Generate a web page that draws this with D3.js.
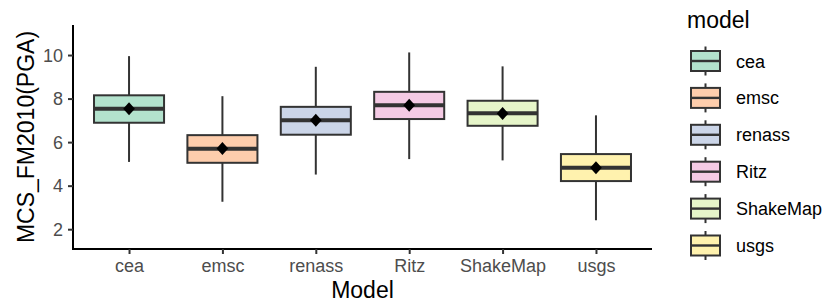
<!DOCTYPE html>
<html>
<head>
<meta charset="utf-8">
<script src="https://cdn.jsdelivr.net/npm/d3@7"></script>
<style>
  body { margin: 0; background: #fff; }
  svg { display: block; font-family: "Liberation Sans", Arial, sans-serif; }
</style>
</head>
<body>
<svg id="chart" width="828" height="302"></svg>
<script>
const models = ["cea", "emsc", "renass", "Ritz", "ShakeMap", "usgs"];
const whiskerLow = [5.09, 3.26, 4.51, 5.22, 5.16, 2.41];
const q1 = [6.89, 5.05, 6.34, 7.06, 6.75, 4.21];
const medians = [7.53, 5.69, 7.0, 7.69, 7.33, 4.82];
const q3 = [8.15, 6.32, 7.62, 8.31, 7.9, 5.45];
const whiskerHigh = [9.95, 8.11, 9.46, 10.12, 9.48, 7.23];
const means = [7.53, 5.71, 7.0, 7.69, 7.32, 4.82];
const yTicks = [2, 4, 6, 8, 10];
const colors = ["#B3E2CD", "#FDCDAC", "#CBD5E8", "#F4CAE4", "#E6F5C9", "#FFF2AE"];

const rows = models.map((m, i) => ({
    model: m, lo: whiskerLow[i], q1: q1[i], med: medians[i],
    q3: q3[i], hi: whiskerHigh[i], mean: means[i]
}));

const svg = d3.select("#chart");
const plotLeft = 73, plotRight = 652, plotTop = 25, plotBottom = 249;
const dark = "#333333";

// ggplot discrete expansion: 0.6 units each side
const step = (plotRight - plotLeft) / (models.length - 1 + 1.2);
const x = d3.scalePoint()
    .domain(models)
    .range([plotLeft + 0.6 * step, plotRight - 0.6 * step]);
const boxW = step * 0.75;

const y = d3.scaleLinear().domain([1.09, 11.38]).range([plotBottom, plotTop]);
const color = d3.scaleOrdinal().domain(models).range(colors);

// axes
const yAxis = svg.append("g").attr("transform", `translate(${plotLeft},0)`)
    .call(d3.axisLeft(y).tickValues(yTicks).tickSize(5).tickPadding(4));
yAxis.select(".domain").attr("d", `M0,${plotTop}V${plotBottom + 1}`);

const xAxis = svg.append("g").attr("transform", `translate(0,${plotBottom})`)
    .call(d3.axisBottom(x).tickSize(5).tickPadding(5));
xAxis.select(".domain").attr("d", `M${plotLeft - 1},0H${plotRight}`);

[yAxis, xAxis].forEach(a => {
    a.select(".domain").attr("stroke", "#000").attr("stroke-width", 2);
    a.selectAll(".tick line").attr("stroke", dark).attr("stroke-width", 2);
    a.selectAll(".tick text").attr("fill", "#4D4D4D").style("font-size", "18px");
});
xAxis.selectAll(".tick text").attr("dy", "0").attr("y", 23);
yAxis.selectAll(".tick text").attr("dy", "0.34em").attr("x", -10);

// boxes
const g = svg.append("g").selectAll("g").data(rows).join("g");
g.append("line")
    .attr("x1", d => x(d.model)).attr("x2", d => x(d.model))
    .attr("y1", d => y(d.hi)).attr("y2", d => y(d.lo))
    .attr("stroke", dark).attr("stroke-width", 2);
g.append("rect")
    .attr("x", d => x(d.model) - boxW / 2)
    .attr("width", boxW)
    .attr("y", d => y(d.q3))
    .attr("height", d => y(d.q1) - y(d.q3))
    .attr("fill", d => color(d.model))
    .attr("stroke", dark).attr("stroke-width", 2);
g.append("line")
    .attr("x1", d => x(d.model) - boxW / 2).attr("x2", d => x(d.model) + boxW / 2)
    .attr("y1", d => y(d.med)).attr("y2", d => y(d.med))
    .attr("stroke", dark).attr("stroke-width", 4);
g.append("rect")
    .attr("x", -4.6).attr("y", -4.6).attr("width", 9.2).attr("height", 9.2)
    .attr("fill", "#000")
    .attr("transform", d => `translate(${x(d.model)},${y(d.mean)}) scale(0.9,1) rotate(45)`);

// axis titles
svg.append("text")
    .attr("transform", `translate(33.5,${(plotTop + plotBottom) / 2}) rotate(-90)`)
    .attr("text-anchor", "middle")
    .style("font-size", "23px").attr("fill", "#000")
    .text("MCS_FM2010(PGA)");
svg.append("text")
    .attr("x", (plotLeft + plotRight) / 2).attr("y", 298)
    .attr("text-anchor", "middle")
    .style("font-size", "23px").attr("fill", "#000")
    .text("Model");

// legend
const legend = svg.append("g");
legend.append("text").attr("x", 687).attr("y", 28)
    .style("font-size", "23px").attr("fill", "#000").text("model");
const item = legend.selectAll("g.item").data(models).join("g")
    .attr("class", "item")
    .attr("transform", (d, i) => `translate(705.5,${61 + i * 36.9})`);
item.append("line").attr("y1", -14.5).attr("y2", 14.5)
    .attr("stroke", dark).attr("stroke-width", 2);
item.append("rect").attr("x", -14.5).attr("y", -10).attr("width", 29).attr("height", 20)
    .attr("fill", d => color(d)).attr("stroke", dark).attr("stroke-width", 2);
item.append("line").attr("x1", -14.5).attr("x2", 14.5)
    .attr("stroke", dark).attr("stroke-width", 2.4);
item.append("text").attr("x", 30.5).attr("y", 6.5)
    .style("font-size", "18px").attr("fill", "#000").text(d => d);
</script>
</body>
</html>
